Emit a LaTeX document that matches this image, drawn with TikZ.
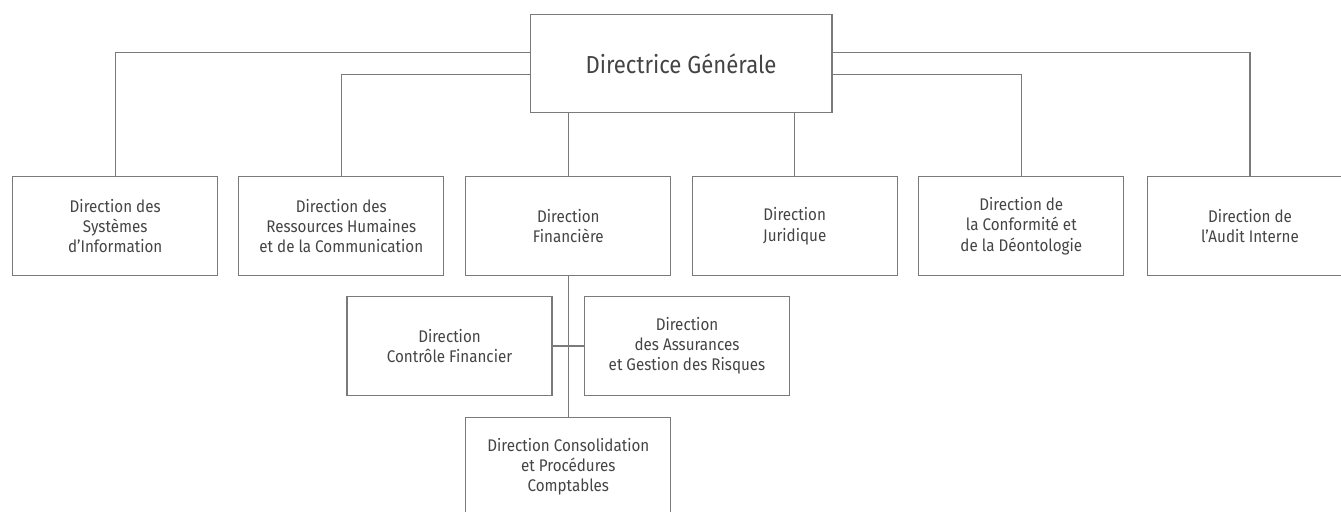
\documentclass[tikz,border=0pt]{standalone}
\usepackage{fontspec}
\setmainfont{Fira Sans}[FakeStretch=0.9]
\usetikzlibrary{positioning}
\definecolor{linegray}{HTML}{7A7A7A}
\definecolor{textgray}{HTML}{444444}

\begin{document}
\begin{tikzpicture}[
    x=0.02cm, y=-0.02cm,
    box/.style={
        draw=linegray,
        line width=0.6pt,
        align=center,
        text=textgray,
        minimum width=4.1cm,
        minimum height=1.97cm,
        font=\fontsize{9.6}{11.4}\selectfont
    },
    topbox/.style={
        box,
        minimum width=6.04cm,
        minimum height=1.96cm,
        font=\fontsize{14}{17}\selectfont
    },
    link/.style={draw=linegray, line width=0.6pt}
]
\useasboundingbox (0,0) rectangle (1341,511);

% --- Top
\node[topbox] (dg) at (681,63.7) {Directrice Générale};

% --- First row
\node[box] (dsi) at (115.2,226.2) {Direction des\\Systèmes\\d’Information};
\node[box] (drh) at (341.3,226.2) {Direction des\\Ressources Humaines\\et de la Communication};
\node[box] (df)  at (568.3,226.2) {Direction\\Financière};
\node[box] (dj)  at (794.7,226.2) {Direction\\Juridique};
\node[box] (dcd) at (1021.3,226.2) {Direction de\\la Conformité et\\de la Déontologie};
\node[box] (dai) at (1250,226.2) {Direction de\\l’Audit Interne};

% --- Under Financière
\node[box] (dcf) at (449.5,346) {Direction\\Contrôle Financier};
\node[box] (dag) at (687,346) {Direction\\des Assurances\\et Gestion des Risques};
\node[box] (dcp) at (568.3,466.8) {Direction Consolidation\\et Procédures\\Comptables};

% --- Links
\draw[link] ([yshift=0.22cm]dg.west) -| (dsi.north);
\draw[link] ([yshift=-0.22cm]dg.west) -| (drh.north);
\draw[link] ([yshift=0.22cm]dg.east) -| (dai.north);
\draw[link] ([yshift=-0.22cm]dg.east) -| (dcd.north);
\draw[link] (df.north |- dg.south) -- (df.north);
\draw[link] (dj.north |- dg.south) -- (dj.north);
\draw[link] (df.south) -- (dcp.north);
\draw[link] (dcf.east) -- (dag.west);

\end{tikzpicture}
\end{document}
